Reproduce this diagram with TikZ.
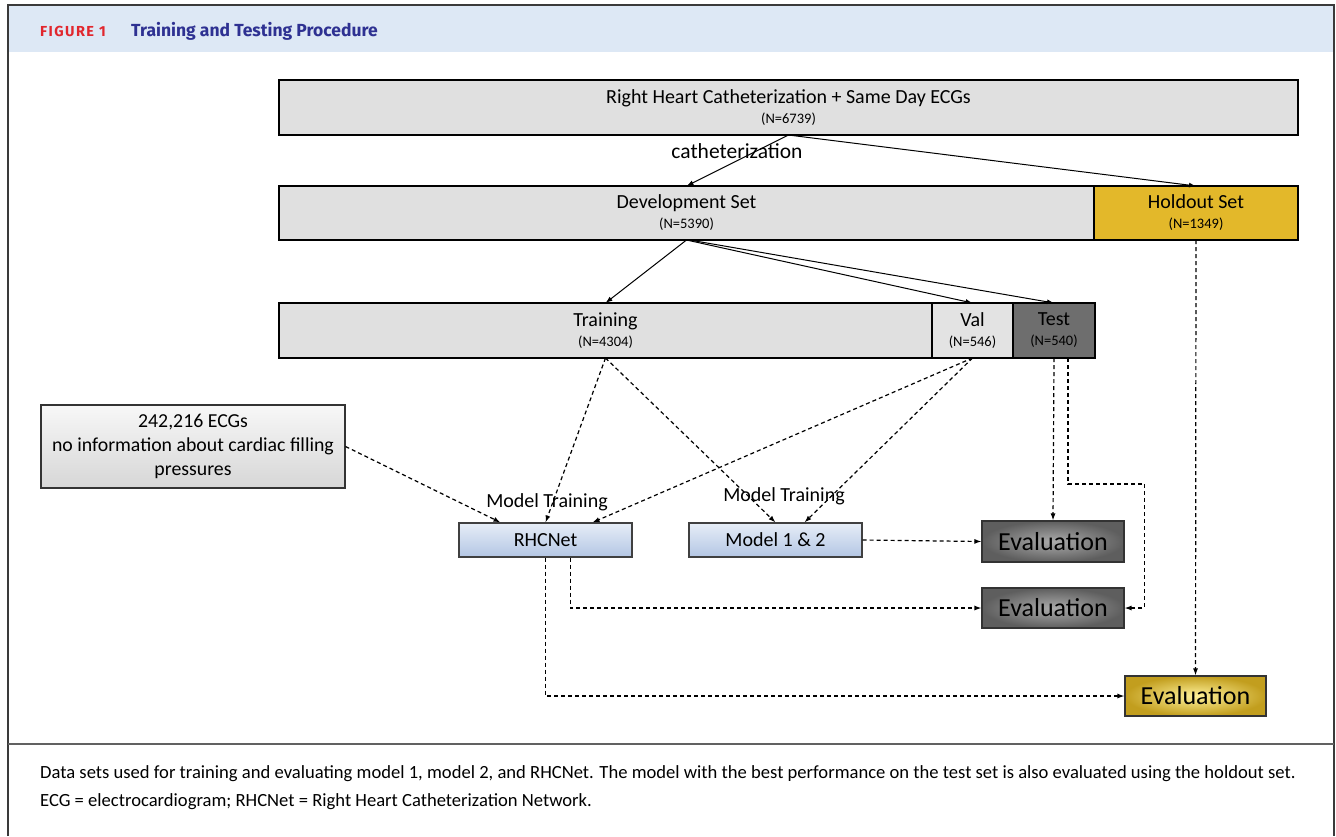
\documentclass[tikz,border=0pt]{standalone}
\usepackage{fontspec}
\setmainfont{Carlito}
\newfontfamily\headfont[LetterSpace=10]{Fira Sans}
\newfontfamily\titlefont{Fira Sans}
\usepackage{tikz}
\usetikzlibrary{arrows.meta, positioning}
\usepackage{xcolor}
\definecolor{framegray}{HTML}{3A3A3A}
\definecolor{headblue}{HTML}{DDE8F5}
\definecolor{figred}{HTML}{E1262D}
\definecolor{titleblue}{HTML}{2E3192}
\definecolor{boxgray}{HTML}{E0E0E0}
\definecolor{holdgold}{HTML}{E3B82A}
\definecolor{testgray}{HTML}{6E6E6E}
\definecolor{netblue}{HTML}{B3C6E4}
\definecolor{netlight}{HTML}{E6EDF7}
\definecolor{evalin}{HTML}{ABABAB}
\definecolor{evalout}{HTML}{5E5E5E}
\definecolor{goldin}{HTML}{FFF29A}
\definecolor{goldout}{HTML}{C29E1E}

\begin{document}
\begin{tikzpicture}[x=1pt, y=-1pt, font=\fontsize{20}{24}\selectfont,
    setbox/.style={draw=black, line width=2.4pt, fill=boxgray, inner sep=0pt,
      outer sep=0pt, anchor=north west, align=center},
    modelbox/.style={draw=black!75, line width=1.1pt, top color=netlight,
      bottom color=netblue, minimum width=173pt, minimum height=34pt},
    evalbox/.style={draw=black!80, line width=1.1pt, inner color=evalin,
      outer color=evalout, minimum width=142pt, minimum height=40pt,
      font=\fontsize{26}{30}\selectfont},
    goldbox/.style={evalbox, inner color=goldin, outer color=goldout},
    lbl/.style={inner sep=1pt},
    solidarrow/.style={-{Latex[length=7pt, width=5pt]}, line width=1pt},
    dasharrow/.style={-{Latex[length=7pt, width=5pt]}, line width=1.2pt,
      dash pattern=on 4pt off 3pt}]

    \useasboundingbox (0,0) rectangle (1336,836);
    \fill[white] (0,0) rectangle (1336,836);

    %% ── Figure frame and header ───────────────────────────────────────────
    \fill[headblue] (9,6) rectangle (1333,52);
    \draw[framegray, line width=2pt] (8,836) -- (8,5) -- (1334,5) -- (1334,836);
    \draw[framegray!80, line width=2pt] (8,744) -- (1334,744);
    \node[anchor=west, inner sep=0pt, figred,
      font=\headfont\fontsize{14.5}{16}\selectfont\bfseries]
      (figno) at (40,31) {FIGURE 1};
    \node[anchor=west, inner sep=0pt, titleblue,
      font=\titlefont\fontsize{17.5}{20}\selectfont\bfseries]
      (figtitle) at (131,31) {Training and Testing Procedure};

    %% ── Data set rows ─────────────────────────────────────────────────────
    \node[setbox, minimum width=1019pt, minimum height=55pt] (cath) at (279,80)
      {Right Heart Catheterization + Same Day ECGs\\[-4pt]
       {\fontsize{14.5}{17}\selectfont (N=6739)}};

    \node[setbox, minimum width=815pt, minimum height=54pt] (dev) at (279,186)
      {Development Set\\[-4pt]{\fontsize{14.5}{17}\selectfont (N=5390)}};
    \node[setbox, fill=holdgold, minimum width=204pt, minimum height=54pt,
      right=0pt of dev] (hold)
      {Holdout Set\\[-4pt]{\fontsize{14.5}{17}\selectfont (N=1349)}};

    \node[setbox, minimum width=653pt, minimum height=55pt] (train) at (279,303)
      {Training\\[-4pt]{\fontsize{14.5}{17}\selectfont (N=4304)}};
    \node[setbox, fill=boxgray!90!white, minimum width=81pt, minimum height=55pt,
      right=0pt of train] (val)
      {Val\\[-4pt]{\fontsize{14.5}{17}\selectfont (N=546)}};
    \node[setbox, fill=testgray, minimum width=82pt, minimum height=55pt,
      right=0pt of val] (test)
      {Test\\[-4pt]{\fontsize{14.5}{17}\selectfont (N=540)}};

    \node[lbl, font=\fontsize{21.5}{24}\selectfont] (cathlbl) at (737,151)
      {catheterization};

    %% ── Extra ECGs and models ─────────────────────────────────────────────
    \node[draw=black!80, line width=1.1pt, top color=gray!6, bottom color=gray!32,
      minimum width=304pt, minimum height=83pt, align=center,
      font=\fontsize{19.8}{24}\selectfont] (ecg) at (193,446.5)
      {242,216 ECGs\\no information about cardiac filling\\pressures};

    \node[modelbox] (rhc) at (545.5,540) {RHCNet};
    \node[modelbox] (model) at (775.5,540) {Model 1 \& 2};

    \node[lbl] (mtrainA) at (547,502) {Model Training};
    \node[lbl] (mtrainB) at (784,496) {Model Training};

    %% ── Evaluation boxes ──────────────────────────────────────────────────
    \node[evalbox, minimum height=41pt] (evalA) at (1053,541.5) {Evaluation};
    \node[evalbox] (evalB) at (1053,608) {Evaluation};
    \node[goldbox, minimum width=141pt] (evalC) at (1195.5,696) {Evaluation};

    %% ── Splits (solid) ────────────────────────────────────────────────────
    \draw[solidarrow] (cath.south) -- (dev.north);
    \draw[solidarrow] (cath.south) -- (hold.north);
    \draw[solidarrow] (dev.south) -- (train.north);
    \draw[solidarrow] (dev.south) -- (val.north);
    \draw[solidarrow] ([xshift=3pt]dev.south) -- (test.north);

    %% ── Training and evaluation (dashed) ──────────────────────────────────
    \draw[dasharrow] (ecg.east) -- ([xshift=-45pt]rhc.north);
    \draw[dasharrow] (train.south) -- (rhc.north);
    \draw[dasharrow] (train.south) -- (model.north);
    \draw[dasharrow] (val.south) -- ([xshift=47pt]rhc.north);
    \draw[dasharrow] (val.south) -- ([xshift=29pt]model.north);

    \draw[dasharrow] (test.south) -- (evalA.north);
    \draw[dasharrow] ([xshift=14pt]test.south) -- ++(0,126)
      -| ([xshift=20pt]evalB.east) -- (evalB.east);
    \draw[dasharrow] (hold.south) -- (evalC.north);

    \draw[dasharrow] (model.east) -- (evalA.west);
    \draw[dasharrow] ([xshift=25pt]rhc.south) |- (evalB.west);
    \draw[dasharrow] (rhc.south) |- (evalC.west);

    %% ── Caption ───────────────────────────────────────────────────────────
    \node[anchor=west, inner sep=0pt, font=\fontsize{18.6}{22}\selectfont]
      (capA) at (40,774)
      {Data sets used for training and evaluating model 1, model 2, and RHCNet.
       The model with the best performance on the test set is also evaluated
       using the holdout set.};
    \node[anchor=west, inner sep=0pt, font=\fontsize{18.6}{22}\selectfont]
      (capB) at (40,802)
      {ECG = electrocardiogram; RHCNet = Right Heart Catheterization Network.};

\end{tikzpicture}
\end{document}
